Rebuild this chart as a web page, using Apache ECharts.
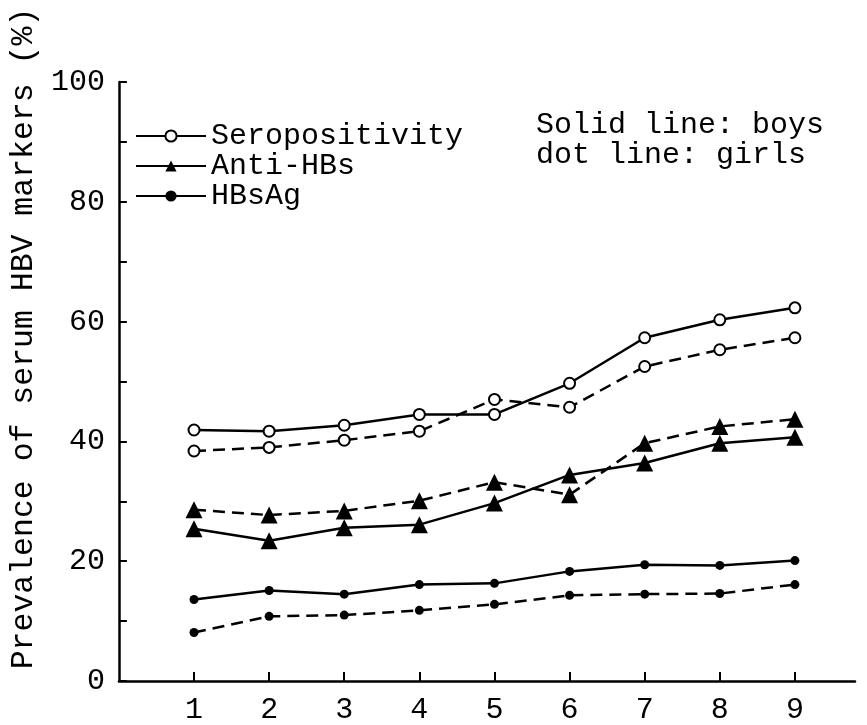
<!DOCTYPE html>
<html>
<head>
<meta charset="utf-8">
<title>Prevalence of serum HBV markers</title>
<script src="https://cdn.jsdelivr.net/npm/echarts@6/dist/echarts.min.js"></script>
<style>
  html, body { margin: 0; padding: 0; background: #fff; }
  #chart { width: 867px; height: 725px; }
</style>
</head>
<body>
<div id="chart"></div>
<script>
// age groups on the x axis
const ages = [1, 2, 3, 4, 5, 6, 7, 8, 9]

// prevalence (%), boys = solid, girls = dashed
const seroBoys = [41.9, 41.7, 42.7, 44.5, 44.5, 49.7, 57.3, 60.3, 62.3]
const seroGirls = [38.4, 39.0, 40.2, 41.7, 47.0, 45.7, 52.5, 55.3, 57.3]
const antiBoys = [25.4, 23.4, 25.6, 26.1, 29.7, 34.4, 36.4, 39.7, 40.7]
const antiGirls = [28.6, 27.7, 28.4, 30.1, 33.2, 31.1, 39.7, 42.5, 43.7]
const hbsagBoys = [13.6, 15.1, 14.5, 16.1, 16.3, 18.3, 19.4, 19.3, 20.1]
const hbsagGirls = [8.1, 10.8, 11.0, 11.8, 12.8, 14.3, 14.5, 14.6, 16.1]

const markerNames = ['Seropositivity', 'Anti-HBs', 'HBsAg']
const yTicks = [0, 20, 40, 60, 80, 100]

const mono = 'Liberation Mono'

function pairs(values) {
  return ages.map((a, i) => [a, values[i]])
}

// one line series; girls get a dashed line
function makeSeries(name, values, dashed, symbol, size) {
  return {
    name: name,
    type: 'line',
    data: pairs(values),
    symbol: symbol,
    symbolSize: size,
    lineStyle: {
      color: '#000',
      width: 2.5,
      type: dashed ? [12, 7] : 'solid'
    },
    itemStyle: {
      color: '#000',
      borderColor: '#000',
      borderWidth: symbol === 'emptyCircle' ? 2.5 : 0
    },
    emphasis: { disabled: true },
    animation: false
  }
}

const chart = echarts.init(document.getElementById('chart'))

const option = {
  backgroundColor: '#fff',
  textStyle: { fontFamily: mono, color: '#000' },
  grid: {
    left: 114,
    right: 12,
    top: 82,
    bottom: 41
  },
  legend: {
    data: markerNames,
    orient: 'vertical',
    left: 130,
    top: 116,
    itemWidth: 70,
    itemHeight: 14,
    itemGap: 0,
    textStyle: {
      fontFamily: mono,
      fontSize: 30,
      lineHeight: 30,
      color: '#000'
    }
  },
  graphic: [
    {
      type: 'text',
      left: 536,
      top: 110,
      style: {
        text: 'Solid line: boys\ndot line: girls',
        font: '30px "Liberation Mono"',
        lineHeight: 30,
        fill: '#000'
      }
    }
  ],
  xAxis: {
    type: 'value',
    min: 0,
    max: 9.8,
    splitLine: { show: false },
    axisLine: { lineStyle: { color: '#000', width: 2.5 } },
    axisTick: {
      inside: true,
      length: 9,
      customValues: ages,
      lineStyle: { color: '#000', width: 2 }
    },
    axisLabel: {
      customValues: ages,
      margin: 14,
      fontSize: 30,
      fontFamily: mono,
      color: '#000'
    }
  },
  yAxis: {
    type: 'value',
    min: 0,
    max: 100,
    interval: 10,
    splitLine: { show: false },
    axisLine: { show: true, lineStyle: { color: '#000', width: 2.5 } },
    axisTick: {
      show: true,
      inside: true,
      length: 8,
      lineStyle: { color: '#000', width: 2 }
    },
    axisLabel: {
      customValues: yTicks,
      margin: 14,
      fontSize: 30,
      fontFamily: mono,
      color: '#000'
    },
    name: 'Prevalence of serum HBV markers (%)',
    nameLocation: 'middle',
    nameRotate: 90,
    nameGap: 78,
    nameTextStyle: {
      fontSize: 31.5,
      fontFamily: mono,
      color: '#000',
      padding: [0, 0, 0, 86]
    }
  },
  series: [
    makeSeries(markerNames[0], seroBoys, false, 'emptyCircle', 11),
    makeSeries(markerNames[0] + ', girls', seroGirls, true, 'emptyCircle', 11),
    makeSeries(markerNames[1], antiBoys, false, 'triangle', 17),
    makeSeries(markerNames[1] + ', girls', antiGirls, true, 'triangle', 17),
    makeSeries(markerNames[2], hbsagBoys, false, 'circle', 9),
    makeSeries(markerNames[2] + ', girls', hbsagGirls, true, 'circle', 9)
  ]
}

chart.setOption(option)
</script>
</body>
</html>
